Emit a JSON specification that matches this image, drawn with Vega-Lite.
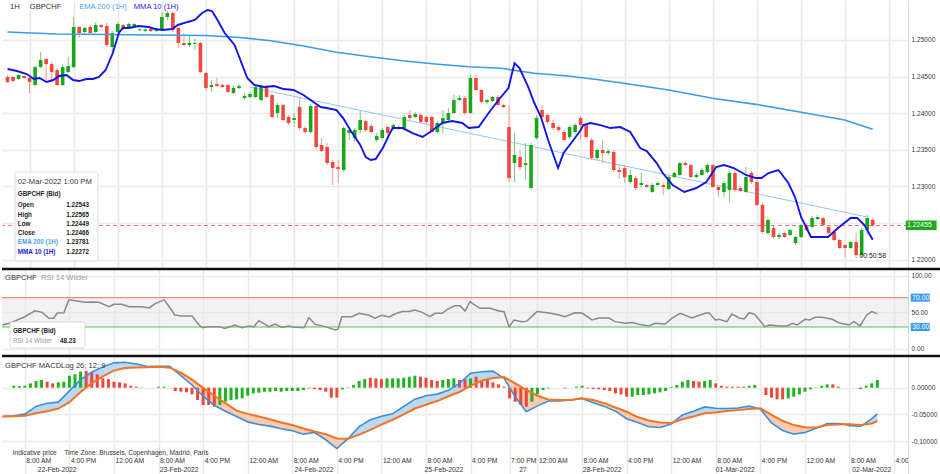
{
"$schema": "https://vega.github.io/schema/vega-lite/v6.json",
"padding": 0,
"spacing": 0,
"bounds": "flush",
"background": "#ffffff",
"resolve": {"scale": {"x": "independent", "y": "independent"}},
"config": {
  "view": {"stroke": null},
  "font": "Liberation Sans",
  "locale": {"number": {"decimal": ".", "thousands": ",", "grouping": [3], "currency": ["$", ""], "minus": "-"}},
  "axis": {"labelFont": "Liberation Sans"},
  "text": {"font": "Liberation Sans"}
},
"datasets": {
  "candles": [
    {"i":4,"o":1.24494,"h":1.24522,"l":1.24412,"c":1.24426},
    {"i":5,"o":1.24494,"h":1.24508,"l":1.24426,"c":1.24439},
    {"i":6,"o":1.24467,"h":1.24535,"l":1.24453,"c":1.24522},
    {"i":7,"o":1.24508,"h":1.24522,"l":1.24467,"c":1.24481},
    {"i":8,"o":1.24481,"h":1.24494,"l":1.24276,"c":1.24426},
    {"i":9,"o":1.24385,"h":1.24644,"l":1.24371,"c":1.24630},
    {"i":10,"o":1.24630,"h":1.24836,"l":1.24617,"c":1.24726},
    {"i":11,"o":1.24740,"h":1.24754,"l":1.24453,"c":1.24671},
    {"i":12,"o":1.24671,"h":1.24699,"l":1.24453,"c":1.24563},
    {"i":13,"o":1.24590,"h":1.24617,"l":1.24371,"c":1.24385},
    {"i":14,"o":1.24385,"h":1.24671,"l":1.24371,"c":1.24630},
    {"i":15,"o":1.24563,"h":1.24767,"l":1.24549,"c":1.24644},
    {"i":16,"o":1.24630,"h":1.25313,"l":1.24617,"c":1.25177},
    {"i":17,"o":1.25177,"h":1.25191,"l":1.25027,"c":1.25095},
    {"i":18,"o":1.25109,"h":1.25177,"l":1.25068,"c":1.25164},
    {"i":19,"o":1.25177,"h":1.25205,"l":1.25082,"c":1.25095},
    {"i":20,"o":1.25109,"h":1.25246,"l":1.25095,"c":1.25205},
    {"i":21,"o":1.25205,"h":1.25218,"l":1.25164,"c":1.25177},
    {"i":22,"o":1.25191,"h":1.25232,"l":1.24904,"c":1.24932},
    {"i":23,"o":1.24904,"h":1.25122,"l":1.24836,"c":1.25095},
    {"i":24,"o":1.25109,"h":1.25246,"l":1.25095,"c":1.25218},
    {"i":25,"o":1.25205,"h":1.25218,"l":1.25136,"c":1.25150},
    {"i":26,"o":1.25164,"h":1.25246,"l":1.25150,"c":1.25218},
    {"i":27,"o":1.25177,"h":1.25232,"l":1.25164,"c":1.25218},
    {"i":28,"o":1.25130,"h":1.25164,"l":1.25122,"c":1.25143},
    {"i":29,"o":1.25122,"h":1.25164,"l":1.25109,"c":1.25143},
    {"i":30,"o":1.25150,"h":1.25164,"l":1.25109,"c":1.25122},
    {"i":31,"o":1.25122,"h":1.25164,"l":1.25109,"c":1.25150},
    {"i":32,"o":1.25150,"h":1.25382,"l":1.25136,"c":1.25313},
    {"i":33,"o":1.25313,"h":1.25396,"l":1.25273,"c":1.25368},
    {"i":34,"o":1.25368,"h":1.25396,"l":1.25109,"c":1.25136},
    {"i":35,"o":1.25164,"h":1.25177,"l":1.24890,"c":1.24959},
    {"i":36,"o":1.24959,"h":1.25095,"l":1.24918,"c":1.24932},
    {"i":37,"o":1.24932,"h":1.25068,"l":1.24904,"c":1.24959},
    {"i":38,"o":1.24945,"h":1.25014,"l":1.24863,"c":1.24959},
    {"i":39,"o":1.24959,"h":1.24973,"l":1.24549,"c":1.24563},
    {"i":40,"o":1.24549,"h":1.24563,"l":1.24317,"c":1.24344},
    {"i":41,"o":1.24357,"h":1.24453,"l":1.24290,"c":1.24385},
    {"i":42,"o":1.24398,"h":1.24481,"l":1.24357,"c":1.24371},
    {"i":43,"o":1.24385,"h":1.24412,"l":1.24344,"c":1.24357},
    {"i":44,"o":1.24385,"h":1.24398,"l":1.24276,"c":1.24290},
    {"i":45,"o":1.24276,"h":1.24371,"l":1.24262,"c":1.24344},
    {"i":46,"o":1.24344,"h":1.24398,"l":1.24330,"c":1.24371},
    {"i":47,"o":1.24207,"h":1.24276,"l":1.24180,"c":1.24235},
    {"i":48,"o":1.24221,"h":1.24290,"l":1.24207,"c":1.24262},
    {"i":49,"o":1.24221,"h":1.24371,"l":1.24207,"c":1.24357},
    {"i":50,"o":1.24180,"h":1.24385,"l":1.24166,"c":1.24357},
    {"i":51,"o":1.24371,"h":1.24385,"l":1.24207,"c":1.24221},
    {"i":52,"o":1.24249,"h":1.24262,"l":1.23934,"c":1.23948},
    {"i":53,"o":1.24002,"h":1.24139,"l":1.23934,"c":1.24112},
    {"i":54,"o":1.24112,"h":1.24125,"l":1.23893,"c":1.23907},
    {"i":55,"o":1.23948,"h":1.23975,"l":1.23838,"c":1.23866},
    {"i":56,"o":1.23907,"h":1.24002,"l":1.23811,"c":1.23934},
    {"i":57,"o":1.24084,"h":1.24207,"l":1.23770,"c":1.23797},
    {"i":58,"o":1.23797,"h":1.23825,"l":1.23716,"c":1.23743},
    {"i":59,"o":1.23743,"h":1.24125,"l":1.23716,"c":1.24098},
    {"i":60,"o":1.24098,"h":1.24125,"l":1.23497,"c":1.23538},
    {"i":61,"o":1.23566,"h":1.23661,"l":1.23470,"c":1.23483},
    {"i":62,"o":1.23538,"h":1.23593,"l":1.23292,"c":1.23319},
    {"i":63,"o":1.23333,"h":1.23360,"l":1.23019,"c":1.23251},
    {"i":64,"o":1.23264,"h":1.23360,"l":1.23046,"c":1.23237},
    {"i":65,"o":1.23224,"h":1.23825,"l":1.23197,"c":1.23797},
    {"i":66,"o":1.23729,"h":1.23797,"l":1.23634,"c":1.23770},
    {"i":67,"o":1.23661,"h":1.23797,"l":1.23607,"c":1.23770},
    {"i":68,"o":1.23770,"h":1.24043,"l":1.23729,"c":1.23907},
    {"i":69,"o":1.23893,"h":1.23907,"l":1.23743,"c":1.23770},
    {"i":70,"o":1.23825,"h":1.23852,"l":1.23716,"c":1.23743},
    {"i":71,"o":1.23634,"h":1.23729,"l":1.23607,"c":1.23688},
    {"i":72,"o":1.23661,"h":1.23797,"l":1.23648,"c":1.23770},
    {"i":73,"o":1.23811,"h":1.23838,"l":1.23702,"c":1.23729},
    {"i":74,"o":1.23797,"h":1.23866,"l":1.23770,"c":1.23838},
    {"i":75,"o":1.23797,"h":1.23838,"l":1.23770,"c":1.23811},
    {"i":76,"o":1.23797,"h":1.23975,"l":1.23770,"c":1.23948},
    {"i":77,"o":1.23975,"h":1.24043,"l":1.23907,"c":1.23934},
    {"i":78,"o":1.23948,"h":1.24016,"l":1.23934,"c":1.23989},
    {"i":79,"o":1.23975,"h":1.24002,"l":1.23866,"c":1.23880},
    {"i":80,"o":1.23948,"h":1.23975,"l":1.23852,"c":1.23880},
    {"i":81,"o":1.23948,"h":1.23975,"l":1.23729,"c":1.23743},
    {"i":82,"o":1.23743,"h":1.23893,"l":1.23716,"c":1.23866},
    {"i":83,"o":1.23866,"h":1.24043,"l":1.23729,"c":1.23934},
    {"i":84,"o":1.23907,"h":1.24071,"l":1.23880,"c":1.24002},
    {"i":85,"o":1.24002,"h":1.24249,"l":1.23989,"c":1.24180},
    {"i":86,"o":1.24180,"h":1.24249,"l":1.24166,"c":1.24207},
    {"i":87,"o":1.24207,"h":1.24235,"l":1.23975,"c":1.24002},
    {"i":88,"o":1.24002,"h":1.24522,"l":1.23989,"c":1.24481},
    {"i":89,"o":1.24481,"h":1.24522,"l":1.24303,"c":1.24317},
    {"i":90,"o":1.24317,"h":1.24330,"l":1.24139,"c":1.24153},
    {"i":91,"o":1.24153,"h":1.24194,"l":1.24125,"c":1.24180},
    {"i":92,"o":1.24166,"h":1.24235,"l":1.24153,"c":1.24221},
    {"i":93,"o":1.24221,"h":1.24249,"l":1.24098,"c":1.24112},
    {"i":94,"o":1.24112,"h":1.24125,"l":1.24071,"c":1.24084},
    {"i":95,"o":1.23811,"h":1.24112,"l":1.23060,"c":1.23114},
    {"i":96,"o":1.23319,"h":1.23729,"l":1.23060,"c":1.23429},
    {"i":97,"o":1.23401,"h":1.23497,"l":1.23224,"c":1.23264},
    {"i":98,"o":1.23292,"h":1.23593,"l":1.23087,"c":1.23319},
    {"i":99,"o":1.22978,"h":1.23593,"l":1.22951,"c":1.23566},
    {"i":100,"o":1.23661,"h":1.23975,"l":1.23634,"c":1.23934},
    {"i":101,"o":1.24043,"h":1.24112,"l":1.23934,"c":1.23948},
    {"i":102,"o":1.23975,"h":1.24002,"l":1.23852,"c":1.23880},
    {"i":103,"o":1.23866,"h":1.23907,"l":1.23770,"c":1.23797},
    {"i":104,"o":1.23811,"h":1.23838,"l":1.23743,"c":1.23770},
    {"i":105,"o":1.23743,"h":1.23770,"l":1.23607,"c":1.23634},
    {"i":106,"o":1.23675,"h":1.23838,"l":1.23648,"c":1.23811},
    {"i":107,"o":1.23743,"h":1.23866,"l":1.23716,"c":1.23838},
    {"i":108,"o":1.23934,"h":1.23962,"l":1.23634,"c":1.23838},
    {"i":109,"o":1.23838,"h":1.23866,"l":1.23661,"c":1.23675},
    {"i":110,"o":1.23634,"h":1.23661,"l":1.23360,"c":1.23387},
    {"i":111,"o":1.23387,"h":1.23524,"l":1.23360,"c":1.23497},
    {"i":112,"o":1.23497,"h":1.23634,"l":1.23319,"c":1.23456},
    {"i":113,"o":1.23456,"h":1.23511,"l":1.23429,"c":1.23483},
    {"i":114,"o":1.23470,"h":1.23497,"l":1.23197,"c":1.23224},
    {"i":115,"o":1.23224,"h":1.23292,"l":1.23101,"c":1.23197},
    {"i":116,"o":1.23251,"h":1.23292,"l":1.23046,"c":1.23128},
    {"i":117,"o":1.23060,"h":1.23224,"l":1.23033,"c":1.23156},
    {"i":118,"o":1.23114,"h":1.23142,"l":1.22951,"c":1.22978},
    {"i":119,"o":1.23019,"h":1.23183,"l":1.22978,"c":1.23046},
    {"i":120,"o":1.23019,"h":1.23033,"l":1.22978,"c":1.22992},
    {"i":121,"o":1.22924,"h":1.23046,"l":1.22910,"c":1.23019},
    {"i":122,"o":1.23019,"h":1.23074,"l":1.23005,"c":1.23046},
    {"i":123,"o":1.23019,"h":1.23046,"l":1.22883,"c":1.22992},
    {"i":124,"o":1.22964,"h":1.23142,"l":1.22951,"c":1.23128},
    {"i":125,"o":1.23128,"h":1.23197,"l":1.23114,"c":1.23183},
    {"i":126,"o":1.23156,"h":1.23333,"l":1.23142,"c":1.23319},
    {"i":127,"o":1.23319,"h":1.23347,"l":1.23278,"c":1.23292},
    {"i":128,"o":1.23292,"h":1.23306,"l":1.23114,"c":1.23128},
    {"i":129,"o":1.23128,"h":1.23183,"l":1.23114,"c":1.23156},
    {"i":130,"o":1.23156,"h":1.23251,"l":1.23142,"c":1.23224},
    {"i":131,"o":1.23197,"h":1.23319,"l":1.23183,"c":1.23292},
    {"i":132,"o":1.23292,"h":1.23306,"l":1.22978,"c":1.22992},
    {"i":133,"o":1.22992,"h":1.23005,"l":1.22855,"c":1.22951},
    {"i":134,"o":1.22924,"h":1.23074,"l":1.22855,"c":1.23046},
    {"i":135,"o":1.22951,"h":1.23210,"l":1.22787,"c":1.23183},
    {"i":136,"o":1.23183,"h":1.23251,"l":1.22924,"c":1.22951},
    {"i":137,"o":1.22978,"h":1.23005,"l":1.22924,"c":1.22937},
    {"i":138,"o":1.22924,"h":1.23264,"l":1.22910,"c":1.23128},
    {"i":139,"o":1.23183,"h":1.23210,"l":1.23033,"c":1.23060},
    {"i":140,"o":1.23060,"h":1.23087,"l":1.22732,"c":1.22746},
    {"i":141,"o":1.22746,"h":1.22773,"l":1.22350,"c":1.22377},
    {"i":142,"o":1.22363,"h":1.22568,"l":1.22336,"c":1.22541},
    {"i":143,"o":1.22431,"h":1.22459,"l":1.22281,"c":1.22309},
    {"i":144,"o":1.22309,"h":1.22363,"l":1.22281,"c":1.22336},
    {"i":145,"o":1.22363,"h":1.22377,"l":1.22295,"c":1.22309},
    {"i":146,"o":1.22336,"h":1.22418,"l":1.22322,"c":1.22404},
    {"i":147,"o":1.22227,"h":1.22322,"l":1.22199,"c":1.22309},
    {"i":148,"o":1.22309,"h":1.22486,"l":1.22295,"c":1.22473},
    {"i":149,"o":1.22473,"h":1.22500,"l":1.22391,"c":1.22404},
    {"i":150,"o":1.22445,"h":1.22596,"l":1.22431,"c":1.22568},
    {"i":151,"o":1.22554,"h":1.22609,"l":1.22541,"c":1.22582},
    {"i":152,"o":1.22568,"h":1.22582,"l":1.22459,"c":1.22473},
    {"i":153,"o":1.22445,"h":1.22459,"l":1.22350,"c":1.22363},
    {"i":154,"o":1.22377,"h":1.22391,"l":1.22254,"c":1.22268},
    {"i":155,"o":1.22268,"h":1.22281,"l":1.22145,"c":1.22159},
    {"i":156,"o":1.22199,"h":1.22213,"l":1.22035,"c":1.22159},
    {"i":157,"o":1.22159,"h":1.22254,"l":1.22145,"c":1.22241},
    {"i":158,"o":1.22241,"h":1.22363,"l":1.22021,"c":1.22062},
    {"i":159,"o":1.22062,"h":1.22431,"l":1.22035,"c":1.22404},
    {"i":160,"o":1.22404,"h":1.22609,"l":1.22336,"c":1.22568},
    {"i":161,"o":1.22543,"h":1.22565,"l":1.22449,"c":1.22466}
  ],
  "ema": [
    {"i":4,"v":1.25109},{"i":12.9,"v":1.25082},{"i":21.8,"v":1.25075},{"i":30.8,"v":1.25068},{"i":39.8,"v":1.25061},{"i":45.7,"v":1.25037},{"i":51.8,"v":1.24990},{"i":57.7,"v":1.24918},{"i":63.7,"v":1.24832},{"i":69.8,"v":1.24772},{"i":75.7,"v":1.24717},{"i":81.6,"v":1.24672},{"i":87.7,"v":1.24635},{"i":93.6,"v":1.24613},{"i":99.6,"v":1.24545},{"i":105.7,"v":1.24508},{"i":111.6,"v":1.24453},{"i":115.2,"v":1.24416},{"i":124,"v":1.24317},{"i":131.9,"v":1.24203},{"i":139.8,"v":1.24121},{"i":147.5,"v":1.24020},{"i":155.9,"v":1.23907},{"i":161,"v":1.23781}
  ],
  "mma": [
    {"i":4,"v":1.24604},{"i":5.7,"v":1.24576},{"i":7.5,"v":1.24535},{"i":8.75,"v":1.24467},{"i":9.8,"v":1.24481},{"i":11.1,"v":1.24426},{"i":12.3,"v":1.24453},{"i":13.4,"v":1.24508},{"i":14.7,"v":1.24522},{"i":15.9,"v":1.24453},{"i":17.0,"v":1.24439},{"i":18.3,"v":1.24467},{"i":19.5,"v":1.24467},{"i":20.6,"v":1.24494},{"i":21.8,"v":1.24590},{"i":23.1,"v":1.24822},{"i":24.2,"v":1.25095},{"i":24.9,"v":1.25164},{"i":26.0,"v":1.25164},{"i":27.8,"v":1.25191},{"i":29.6,"v":1.25177},{"i":30.8,"v":1.25150},{"i":32.1,"v":1.25136},{"i":33.9,"v":1.25150},{"i":34.9,"v":1.25205},{"i":36.7,"v":1.25246},{"i":38.0,"v":1.25273},{"i":39.3,"v":1.25368},{"i":40.3,"v":1.25409},{"i":41.1,"v":1.25396},{"i":42.1,"v":1.25273},{"i":43.4,"v":1.25095},{"i":45.2,"v":1.24932},{"i":47.5,"v":1.24481},{"i":48.8,"v":1.24385},{"i":50.6,"v":1.24357},{"i":52.4,"v":1.24371},{"i":54.1,"v":1.24330},{"i":55.9,"v":1.24317},{"i":57.7,"v":1.24249},{"i":59.5,"v":1.24153},{"i":60.8,"v":1.24084},{"i":61.9,"v":1.24071},{"i":63.7,"v":1.24043},{"i":64.9,"v":1.23934},{"i":66.2,"v":1.23770},{"i":68.0,"v":1.23566},{"i":69.0,"v":1.23401},{"i":69.9,"v":1.23360},{"i":70.8,"v":1.23374},{"i":72.1,"v":1.23524},{"i":73.4,"v":1.23729},{"i":73.9,"v":1.23797},{"i":75.7,"v":1.23797},{"i":77.5,"v":1.23729},{"i":79.3,"v":1.23675},{"i":80.7,"v":1.23743},{"i":82.9,"v":1.23866},{"i":84.7,"v":1.23893},{"i":86.5,"v":1.23866},{"i":87.7,"v":1.23797},{"i":89.5,"v":1.23811},{"i":91.3,"v":1.24002},{"i":93.1,"v":1.24180},{"i":94.9,"v":1.24344},{"i":96.0,"v":1.24685},{"i":96.9,"v":1.24617},{"i":98.5,"v":1.24357},{"i":99.6,"v":1.24139},{"i":100.8,"v":1.23948},{"i":102.1,"v":1.23634},{"i":103.9,"v":1.23251},{"i":104.9,"v":1.23456},{"i":106.7,"v":1.23634},{"i":108.0,"v":1.23770},{"i":108.5,"v":1.23838},{"i":109.8,"v":1.23866},{"i":111.6,"v":1.23838},{"i":113.4,"v":1.23797},{"i":115.2,"v":1.23811},{"i":117.0,"v":1.23743},{"i":118.8,"v":1.23524},{"i":120.0,"v":1.23483},{"i":121.8,"v":1.23319},{"i":122.9,"v":1.23183},{"i":124.7,"v":1.23019},{"i":126.8,"v":1.22924},{"i":129.0,"v":1.22978},{"i":130.8,"v":1.23060},{"i":132.6,"v":1.23264},{"i":134.0,"v":1.23292},{"i":135.8,"v":1.23251},{"i":138.0,"v":1.23156},{"i":139.8,"v":1.23114},{"i":140.8,"v":1.23114},{"i":142.1,"v":1.23183},{"i":143.9,"v":1.23224},{"i":145.7,"v":1.23046},{"i":146.9,"v":1.22855},{"i":148.0,"v":1.22582},{"i":149.8,"v":1.22309},{"i":151.6,"v":1.22309},{"i":152.9,"v":1.22309},{"i":154.7,"v":1.22431},{"i":157.0,"v":1.22568},{"i":158.2,"v":1.22568},{"i":159.5,"v":1.22473},{"i":161.0,"v":1.22272}
  ],
  "trend": [{"i":47.9,"v":1.24358},{"i":160.0,"v":1.22582}],
  "rsi": [
    {"i":4,"v":32.7},{"i":5.2,"v":35},{"i":8.0,"v":44},{"i":9.8,"v":52},{"i":11.1,"v":50},{"i":12.3,"v":42},{"i":13.2,"v":42},{"i":13.8,"v":49},{"i":15.0,"v":49.5},{"i":15.9,"v":67},{"i":17.4,"v":65.5},{"i":18.8,"v":63.7},{"i":20.1,"v":64},{"i":21.3,"v":63.7},{"i":23.1,"v":57.7},{"i":24.0,"v":61},{"i":25.4,"v":61},{"i":26.7,"v":57.7},{"i":29.0,"v":57.7},{"i":30.3,"v":56},{"i":31.4,"v":62},{"i":33.0,"v":67},{"i":33.9,"v":57.7},{"i":34.9,"v":46.4},{"i":36.2,"v":45},{"i":38.0,"v":45},{"i":39.3,"v":32.7},{"i":39.8,"v":29},{"i":41.1,"v":30.5},{"i":42.8,"v":30.5},{"i":43.9,"v":28},{"i":45.7,"v":32.7},{"i":47.0,"v":29},{"i":48.2,"v":31.5},{"i":49.1,"v":30.5},{"i":50.0,"v":38.6},{"i":51.8,"v":30.5},{"i":52.9,"v":34},{"i":54.2,"v":29.5},{"i":55.4,"v":31.5},{"i":56.5,"v":29.5},{"i":58.1,"v":29},{"i":59.0,"v":43},{"i":60.1,"v":33.5},{"i":61.9,"v":30.5},{"i":63.7,"v":26},{"i":64.2,"v":27},{"i":64.9,"v":44},{"i":66.7,"v":44},{"i":68.0,"v":48.7},{"i":69.8,"v":46},{"i":70.8,"v":42},{"i":72.1,"v":46},{"i":73.4,"v":43.6},{"i":74.4,"v":47.7},{"i":75.7,"v":51},{"i":76.9,"v":51},{"i":78.0,"v":53},{"i":79.3,"v":50},{"i":80.7,"v":44},{"i":81.6,"v":48.7},{"i":82.9,"v":48.7},{"i":84.1,"v":55.5},{"i":85.2,"v":59},{"i":86.1,"v":59},{"i":87.0,"v":51.8},{"i":87.9,"v":64.5},{"i":88.3,"v":62.3},{"i":89.7,"v":55.5},{"i":91.5,"v":55.5},{"i":93.1,"v":51.8},{"i":94.0,"v":50.9},{"i":94.9,"v":30.4},{"i":95.8,"v":39.6},{"i":97.2,"v":37.3},{"i":98.1,"v":38},{"i":99.9,"v":51},{"i":102.1,"v":49},{"i":103.9,"v":46.4},{"i":104.9,"v":44},{"i":106.7,"v":49.5},{"i":108.0,"v":49},{"i":109.8,"v":39.6},{"i":111.0,"v":42.3},{"i":112.8,"v":42.3},{"i":113.9,"v":37.3},{"i":115.7,"v":35},{"i":117.0,"v":36},{"i":118.2,"v":33.7},{"i":120.0,"v":31.4},{"i":121.1,"v":35},{"i":122.9,"v":34},{"i":124.1,"v":41.8},{"i":125.6,"v":48.7},{"i":127.7,"v":42.3},{"i":130.1,"v":48.7},{"i":130.8,"v":49.5},{"i":131.9,"v":39.6},{"i":132.6,"v":40.5},{"i":134.0,"v":37.3},{"i":134.9,"v":47.7},{"i":136.2,"v":42.3},{"i":137.1,"v":41},{"i":138.0,"v":49.5},{"i":139.0,"v":47.3},{"i":140.8,"v":30.4},{"i":141.7,"v":32.7},{"i":143.3,"v":31.4},{"i":144.8,"v":31.4},{"i":145.7,"v":35},{"i":146.6,"v":32.7},{"i":148.0,"v":40.5},{"i":148.9,"v":39.5},{"i":149.8,"v":43.2},{"i":151.1,"v":43.2},{"i":152.9,"v":40.5},{"i":154.1,"v":35.9},{"i":155.9,"v":32.7},{"i":156.8,"v":37.3},{"i":157.9,"v":31.4},{"i":159.1,"v":46.4},{"i":160.0,"v":51},{"i":161.0,"v":48.23}
  ],
  "macd": [
    {"i":4,"m":-0.054,"s":-0.054,"seg":1,"dir":"above"},{"i":6,"m":-0.0525,"s":-0.0535,"seg":1,"dir":"above"},{"i":8,"m":-0.0495,"s":-0.0525,"seg":1,"dir":"above"},{"i":10,"m":-0.035,"s":-0.0478,"seg":1,"dir":"above"},{"i":12,"m":-0.0292,"s":-0.044,"seg":1,"dir":"above"},{"i":14,"m":-0.027,"s":-0.039,"seg":1,"dir":"above"},{"i":16,"m":-0.006,"s":-0.027,"seg":1,"dir":"above"},{"i":18,"m":0.015,"s":-0.008,"seg":1,"dir":"above"},{"i":20,"m":0.029,"s":0.008,"seg":1,"dir":"above"},{"i":22,"m":0.039,"s":0.021,"seg":1,"dir":"above"},{"i":24,"m":0.0465,"s":0.032,"seg":1,"dir":"above"},{"i":26,"m":0.0476,"s":0.037,"seg":1,"dir":"above"},{"i":28,"m":0.0445,"s":0.038,"seg":1,"dir":"above"},{"i":30,"m":0.0398,"s":0.0385,"seg":1,"dir":"above"},{"i":32,"m":0.040,"s":0.039,"seg":1,"dir":"above"},{"i":34,"m":0.040,"s":0.0375,"seg":1,"dir":"above"},{"i":34.6,"m":0.0347,"s":0.0347,"seg":1,"dir":"above"},
    {"i":34.6,"m":0.0347,"s":0.0347,"seg":2,"dir":"below"},{"i":36,"m":0.0225,"s":0.028,"seg":2,"dir":"below"},{"i":38,"m":0.0051,"s":0.015,"seg":2,"dir":"below"},{"i":40,"m":-0.016,"s":-0.0004,"seg":2,"dir":"below"},{"i":42,"m":-0.033,"s":-0.015,"seg":2,"dir":"below"},{"i":44,"m":-0.044,"s":-0.029,"seg":2,"dir":"below"},{"i":46,"m":-0.054,"s":-0.043,"seg":2,"dir":"below"},{"i":48,"m":-0.064,"s":-0.049,"seg":2,"dir":"below"},{"i":50,"m":-0.069,"s":-0.054,"seg":2,"dir":"below"},{"i":52,"m":-0.072,"s":-0.059,"seg":2,"dir":"below"},{"i":54,"m":-0.077,"s":-0.065,"seg":2,"dir":"below"},{"i":56,"m":-0.0805,"s":-0.070,"seg":2,"dir":"below"},{"i":58,"m":-0.087,"s":-0.0765,"seg":2,"dir":"below"},{"i":60,"m":-0.084,"s":-0.082,"seg":2,"dir":"below"},{"i":62,"m":-0.0975,"s":-0.087,"seg":2,"dir":"below"},{"i":64,"m":-0.114,"s":-0.095,"seg":2,"dir":"below"},{"i":66,"m":-0.0955,"s":-0.0955,"seg":2,"dir":"below"},
    {"i":66,"m":-0.0955,"s":-0.0955,"seg":3,"dir":"above"},{"i":68,"m":-0.073,"s":-0.088,"seg":3,"dir":"above"},{"i":70,"m":-0.060,"s":-0.079,"seg":3,"dir":"above"},{"i":72,"m":-0.0535,"s":-0.069,"seg":3,"dir":"above"},{"i":74,"m":-0.049,"s":-0.060,"seg":3,"dir":"above"},{"i":76,"m":-0.035,"s":-0.050,"seg":3,"dir":"above"},{"i":78,"m":-0.0215,"s":-0.039,"seg":3,"dir":"above"},{"i":80,"m":-0.015,"s":-0.032,"seg":3,"dir":"above"},{"i":82,"m":-0.012,"s":-0.025,"seg":3,"dir":"above"},{"i":84,"m":-0.005,"s":-0.016,"seg":3,"dir":"above"},{"i":86,"m":0.008,"s":-0.008,"seg":3,"dir":"above"},{"i":88,"m":0.027,"s":0.004,"seg":3,"dir":"above"},{"i":90,"m":0.030,"s":0.013,"seg":3,"dir":"above"},{"i":92,"m":0.031,"s":0.018,"seg":3,"dir":"above"},{"i":93.7,"m":0.0197,"s":0.0197,"seg":3,"dir":"above"},
    {"i":93.7,"m":0.0197,"s":0.0197,"seg":4,"dir":"below"},{"i":94,"m":0.018,"s":0.020,"seg":4,"dir":"below"},{"i":96,"m":-0.017,"s":0.008,"seg":4,"dir":"below"},{"i":98,"m":-0.045,"s":-0.004,"seg":4,"dir":"below"},{"i":100,"m":-0.034,"s":-0.015,"seg":4,"dir":"below"},{"i":102,"m":-0.025,"s":-0.022,"seg":4,"dir":"below"},{"i":104,"m":-0.025,"s":-0.023,"seg":4,"dir":"below"},{"i":106,"m":-0.023,"s":-0.023,"seg":4,"dir":"below"},{"i":108,"m":-0.020,"s":-0.020,"seg":4,"dir":"below"},{"i":110,"m":-0.028,"s":-0.023,"seg":4,"dir":"below"},{"i":112,"m":-0.035,"s":-0.029,"seg":4,"dir":"below"},{"i":114,"m":-0.044,"s":-0.037,"seg":4,"dir":"below"},{"i":116,"m":-0.058,"s":-0.045,"seg":4,"dir":"below"},{"i":118,"m":-0.065,"s":-0.055,"seg":4,"dir":"below"},{"i":120,"m":-0.073,"s":-0.0615,"seg":4,"dir":"below"},{"i":122,"m":-0.0745,"s":-0.065,"seg":4,"dir":"below"},{"i":124,"m":-0.068,"s":-0.066,"seg":4,"dir":"below"},{"i":124.4,"m":-0.0646,"s":-0.0646,"seg":4,"dir":"below"},
    {"i":124.4,"m":-0.0646,"s":-0.0646,"seg":5,"dir":"above"},{"i":126,"m":-0.051,"s":-0.059,"seg":5,"dir":"above"},{"i":128,"m":-0.044,"s":-0.054,"seg":5,"dir":"above"},{"i":130,"m":-0.036,"s":-0.048,"seg":5,"dir":"above"},{"i":132,"m":-0.0386,"s":-0.0465,"seg":5,"dir":"above"},{"i":134,"m":-0.039,"s":-0.0436,"seg":5,"dir":"above"},{"i":136,"m":-0.038,"s":-0.042,"seg":5,"dir":"above"},{"i":138,"m":-0.0345,"s":-0.040,"seg":5,"dir":"above"},{"i":139.6,"m":-0.0388,"s":-0.0388,"seg":5,"dir":"above"},
    {"i":139.6,"m":-0.0388,"s":-0.0388,"seg":6,"dir":"below"},{"i":140,"m":-0.040,"s":-0.0385,"seg":6,"dir":"below"},{"i":142,"m":-0.066,"s":-0.051,"seg":6,"dir":"below"},{"i":144,"m":-0.080,"s":-0.062,"seg":6,"dir":"below"},{"i":146,"m":-0.087,"s":-0.070,"seg":6,"dir":"below"},{"i":148,"m":-0.084,"s":-0.074,"seg":6,"dir":"below"},{"i":150,"m":-0.076,"s":-0.0745,"seg":6,"dir":"below"},{"i":150.7,"m":-0.073,"s":-0.073,"seg":6,"dir":"below"},
    {"i":150.7,"m":-0.073,"s":-0.073,"seg":7,"dir":"above"},{"i":152,"m":-0.067,"s":-0.070,"seg":7,"dir":"above"},{"i":154,"m":-0.067,"s":-0.069,"seg":7,"dir":"above"},{"i":154.9,"m":-0.068,"s":-0.068,"seg":7,"dir":"above"},
    {"i":154.9,"m":-0.068,"s":-0.068,"seg":8,"dir":"below"},{"i":156,"m":-0.071,"s":-0.0686,"seg":8,"dir":"below"},{"i":158,"m":-0.072,"s":-0.070,"seg":8,"dir":"below"},{"i":158.4,"m":-0.0695,"s":-0.0695,"seg":8,"dir":"below"},
    {"i":158.4,"m":-0.0695,"s":-0.0695,"seg":9,"dir":"above"},{"i":160,"m":-0.058,"s":-0.067,"seg":9,"dir":"above"},{"i":161,"m":-0.049,"s":-0.0624,"seg":9,"dir":"above"}
  ],
  "hist": [
    {"i":6,"h":0.0037,"dir":"up"},{"i":7,"h":0.0031,"dir":"up"},{"i":8,"h":0.0037,"dir":"up"},{"i":9,"h":0.0081,"dir":"up"},{"i":10,"h":0.0125,"dir":"up"},{"i":11,"h":0.0144,"dir":"up"},{"i":12,"h":0.0112,"dir":"down"},{"i":13,"h":0.0081,"dir":"down"},{"i":14,"h":0.0100,"dir":"up"},{"i":15,"h":0.0112,"dir":"up"},{"i":16,"h":0.0225,"dir":"up"},{"i":17,"h":0.0250,"dir":"up"},{"i":18,"h":0.0300,"dir":"up"},{"i":19,"h":0.0312,"dir":"down"},{"i":20,"h":0.0287,"dir":"down"},{"i":21,"h":0.0250,"dir":"down"},{"i":22,"h":0.0175,"dir":"down"},{"i":23,"h":0.0162,"dir":"down"},{"i":24,"h":0.0112,"dir":"down"},{"i":25,"h":0.0100,"dir":"down"},{"i":26,"h":0.0081,"dir":"down"},{"i":27,"h":0.0037,"dir":"down"},{"i":28,"h":0.0019,"dir":"down"},{"i":29,"h":0.0006,"dir":"down"},{"i":32,"h":0.0019,"dir":"up"},{"i":33,"h":0.0019,"dir":"up"},
    {"i":35,"h":-0.0062,"dir":"down"},{"i":36,"h":-0.0075,"dir":"down"},{"i":37,"h":-0.0087,"dir":"down"},{"i":38,"h":-0.0125,"dir":"down"},{"i":39,"h":-0.0231,"dir":"down"},{"i":40,"h":-0.0324,"dir":"down"},{"i":41,"h":-0.0324,"dir":"down"},{"i":42,"h":-0.0356,"dir":"down"},{"i":43,"h":-0.0324,"dir":"up"},{"i":44,"h":-0.0262,"dir":"up"},{"i":45,"h":-0.0231,"dir":"up"},{"i":46,"h":-0.0218,"dir":"up"},{"i":47,"h":-0.0200,"dir":"up"},{"i":48,"h":-0.0150,"dir":"up"},{"i":49,"h":-0.0106,"dir":"up"},{"i":50,"h":-0.0094,"dir":"up"},{"i":51,"h":-0.0075,"dir":"up"},{"i":52,"h":-0.0075,"dir":"up"},{"i":53,"h":-0.0062,"dir":"up"},{"i":54,"h":-0.0075,"dir":"up"},{"i":55,"h":-0.0062,"dir":"up"},{"i":56,"h":-0.0062,"dir":"up"},{"i":57,"h":-0.0062,"dir":"up"},{"i":58,"h":-0.0044,"dir":"up"},{"i":59,"h":-0.0012,"dir":"up"},{"i":60,"h":-0.0025,"dir":"down"},{"i":61,"h":-0.0044,"dir":"down"},{"i":62,"h":-0.0075,"dir":"down"},{"i":63,"h":-0.0187,"dir":"down"},{"i":64,"h":-0.0187,"dir":"down"},{"i":65,"h":-0.0031,"dir":"up"},{"i":66,"h":0.0006,"dir":"up"},{"i":67,"h":0.0050,"dir":"up"},{"i":68,"h":0.0125,"dir":"up"},{"i":69,"h":0.0162,"dir":"up"},{"i":70,"h":0.0187,"dir":"down"},{"i":71,"h":0.0175,"dir":"down"},{"i":72,"h":0.0162,"dir":"down"},{"i":73,"h":0.0175,"dir":"up"},{"i":74,"h":0.0175,"dir":"up"},{"i":75,"h":0.0175,"dir":"up"},{"i":76,"h":0.0187,"dir":"up"},{"i":77,"h":0.0206,"dir":"up"},{"i":78,"h":0.0225,"dir":"up"},{"i":79,"h":0.0206,"dir":"down"},{"i":80,"h":0.0187,"dir":"down"},{"i":81,"h":0.0144,"dir":"down"},{"i":82,"h":0.0125,"dir":"down"},{"i":83,"h":0.0144,"dir":"up"},{"i":84,"h":0.0162,"dir":"up"},{"i":85,"h":0.0175,"dir":"up"},{"i":86,"h":0.0144,"dir":"down"},{"i":87,"h":0.0162,"dir":"down"},{"i":88,"h":0.0175,"dir":"up"},{"i":89,"h":0.0206,"dir":"down"},{"i":90,"h":0.0144,"dir":"down"},{"i":91,"h":0.0144,"dir":"down"},{"i":92,"h":0.0100,"dir":"down"},{"i":93,"h":0.0062,"dir":"down"},{"i":94,"h":0.0019,"dir":"down"},
    {"i":95,"h":-0.0200,"dir":"down"},{"i":96,"h":-0.0262,"dir":"down"},{"i":97,"h":-0.0324,"dir":"down"},{"i":98,"h":-0.0356,"dir":"down"},{"i":99,"h":-0.0262,"dir":"up"},{"i":100,"h":-0.0125,"dir":"up"},{"i":101,"h":-0.0044,"dir":"up"},{"i":102,"h":-0.0012,"dir":"up"},{"i":105,"h":-0.0012,"dir":"down"},{"i":107,"h":0.0019,"dir":"up"},{"i":108,"h":0.0037,"dir":"up"},{"i":109,"h":-0.0012,"dir":"down"},{"i":110,"h":-0.0025,"dir":"down"},{"i":111,"h":-0.0031,"dir":"down"},{"i":112,"h":-0.0044,"dir":"down"},{"i":113,"h":-0.0062,"dir":"down"},{"i":114,"h":-0.0106,"dir":"down"},{"i":115,"h":-0.0125,"dir":"down"},{"i":116,"h":-0.0168,"dir":"down"},{"i":117,"h":-0.0168,"dir":"up"},{"i":118,"h":-0.0137,"dir":"up"},{"i":119,"h":-0.0137,"dir":"up"},{"i":120,"h":-0.0125,"dir":"up"},{"i":121,"h":-0.0106,"dir":"up"},{"i":122,"h":-0.0087,"dir":"up"},{"i":123,"h":-0.0062,"dir":"up"},{"i":124,"h":0.0012,"dir":"up"},{"i":125,"h":0.0050,"dir":"up"},{"i":126,"h":0.0112,"dir":"up"},{"i":127,"h":0.0144,"dir":"up"},{"i":128,"h":0.0125,"dir":"down"},{"i":129,"h":0.0112,"dir":"down"},{"i":130,"h":0.0125,"dir":"up"},{"i":131,"h":0.0144,"dir":"up"},{"i":132,"h":0.0081,"dir":"down"},{"i":133,"h":0.0037,"dir":"down"},{"i":134,"h":0.0019,"dir":"down"},{"i":135,"h":0.0019,"dir":"down"},{"i":136,"h":0.0019,"dir":"down"},{"i":137,"h":0.0019,"dir":"down"},{"i":138,"h":0.0037,"dir":"up"},{"i":139,"h":0.0050,"dir":"up"},{"i":141,"h":-0.0137,"dir":"down"},{"i":142,"h":-0.0187,"dir":"down"},{"i":143,"h":-0.0218,"dir":"down"},{"i":144,"h":-0.0218,"dir":"down"},{"i":145,"h":-0.0200,"dir":"up"},{"i":146,"h":-0.0168,"dir":"up"},{"i":147,"h":-0.0125,"dir":"up"},{"i":148,"h":-0.0075,"dir":"up"},{"i":149,"h":-0.0031,"dir":"up"},{"i":150,"h":0.0006,"dir":"up"},{"i":151,"h":0.0037,"dir":"up"},{"i":152,"h":0.0062,"dir":"up"},{"i":153,"h":0.0062,"dir":"down"},{"i":154,"h":0.0019,"dir":"down"},{"i":158,"h":-0.0025,"dir":"down"},{"i":159,"h":0.0037,"dir":"up"},{"i":160,"h":0.0081,"dir":"up"},{"i":161,"h":0.0144,"dir":"up"}
  ],
  "times": [
    {"i":8,"t":"8:00 AM"},{"i":16,"t":"4:00 PM"},{"i":24,"t":"12:00 AM"},{"i":32,"t":"8:00 AM"},{"i":40,"t":"4:00 PM"},{"i":48,"t":"12:00 AM"},{"i":56,"t":"8:00 AM"},{"i":64,"t":"4:00 PM"},{"i":72,"t":"12:00 AM"},{"i":80,"t":"8:00 AM"},{"i":88,"t":"4:00 PM"},{"i":95,"t":"7:00 PM"},{"i":100,"t":"12:00 AM"},{"i":108,"t":"8:00 AM"},{"i":116,"t":"4:00 PM"},{"i":124,"t":"12:00 AM"},{"i":132,"t":"8:00 AM"},{"i":140,"t":"4:00 PM"},{"i":148,"t":"12:00 AM"},{"i":156,"t":"8:00 AM"},{"i":164,"t":"4:00 PM"}
  ],
  "dates": [
    {"i":13.8,"d":"22-Feb-2022"},{"i":35.7,"d":"23-Feb-2022"},{"i":59.9,"d":"24-Feb-2022"},{"i":83.2,"d":"25-Feb-2022"},{"i":97.4,"d":"27"},{"i":111.6,"d":"28-Feb-2022"},{"i":135.5,"d":"01-Mar-2022"},{"i":160.0,"d":"02-Mar-2022"}
  ]
},
"vconcat": [
  {
    "width": 906, "height": 269,
    "layer": [
      {"data": {"name": "trend"},
       "mark": {"type": "line", "color": "#92c8f1", "strokeWidth": 1, "clip": true},
       "encoding": {
         "x": {"field": "i", "type": "quantitative", "scale": {"domain": [3.9, 166.5], "nice": false, "zero": false},
               "axis": {"values": [8,16,24,32,40,48,56,64,72,80,88,95,100,108,116,124,132,140,148,156,164], "grid": true, "labels": false, "ticks": false, "domain": false, "title": null, "gridColor": "#e8e8e8", "gridWidth": 1.5}},
         "y": {"field": "v", "type": "quantitative", "scale": {"domain": [1.21872, 1.25546], "nice": false, "zero": false},
               "axis": {"orient": "right", "values": [1.22, 1.225, 1.23, 1.235, 1.24, 1.245, 1.25], "format": ".5f", "labelExpr": "abs(datum.value-1.225) < 0.000001 ? '' : datum.label", "grid": true, "gridColor": "#ebebeb", "gridWidth": 1.5, "ticks": false, "domain": true, "domainColor": "#d6d6d6", "labelFontSize": 6.6, "labelColor": "#3a3a3a", "labelPadding": 3, "title": null}}
       }},
      {"data": {"values": [{}]},
       "mark": {"type": "rule", "stroke": "#f07a6a", "color": "#f07a6a", "strokeWidth": 1, "strokeDash": [4, 3]},
       "encoding": {"y": {"datum": 1.22466}}},
      {"data": {"name": "candles"},
       "mark": {"type": "rule", "strokeWidth": 1, "clip": true},
       "encoding": {
         "x": {"field": "i", "type": "quantitative"},
         "y": {"field": "l", "type": "quantitative"},
         "y2": {"field": "h"},
         "color": {"condition": {"test": "datum.c >= datum.o", "value": "#7acb7a"}, "value": "#f59a93"}
       }},
      {"data": {"name": "candles"},
       "mark": {"type": "bar", "width": 3.6, "clip": true},
       "encoding": {
         "x": {"field": "i", "type": "quantitative"},
         "y": {"field": "o", "type": "quantitative"},
         "y2": {"field": "c"},
         "color": {"condition": {"test": "datum.c >= datum.o", "value": "#1aa61a"}, "value": "#f2473f"}
       }},
      {"data": {"name": "ema"},
       "mark": {"type": "line", "color": "#3d9ae8", "strokeWidth": 1.6, "clip": true},
       "encoding": {"x": {"field": "i", "type": "quantitative"}, "y": {"field": "v", "type": "quantitative"}}},
      {"data": {"name": "mma"},
       "mark": {"type": "line", "color": "#1414e6", "strokeWidth": 1.9, "clip": true},
       "encoding": {"x": {"field": "i", "type": "quantitative"}, "y": {"field": "v", "type": "quantitative"}}},
      {"data": {"values": [{}]},
       "mark": {"type": "text", "text": "1H", "fontSize": 7.6, "color": "#333333", "align": "left", "baseline": "middle"},
       "encoding": {"x": {"datum": 4.44}, "y": {"datum": 1.2545}}},
      {"data": {"values": [{}]},
       "mark": {"type": "text", "text": "GBPCHF", "fontSize": 7.6, "color": "#333333", "align": "left", "baseline": "middle"},
       "encoding": {"x": {"datum": 8.03}, "y": {"datum": 1.2545}}},
      {"data": {"values": [{}]},
       "mark": {"type": "text", "text": "EMA 200  (1H)", "fontSize": 7.6, "color": "#4aa3ec", "align": "left", "baseline": "middle"},
       "encoding": {"x": {"datum": 17.0}, "y": {"datum": 1.2545}}},
      {"data": {"values": [{}]},
       "mark": {"type": "text", "text": "MMA 10  (1H)", "fontSize": 7.6, "color": "#1c1cee", "align": "left", "baseline": "middle"},
       "encoding": {"x": {"datum": 26.9}, "y": {"datum": 1.2545}}},
      {"data": {"values": [{}]},
       "mark": {"type": "rect", "fill": "#ffffff", "fillOpacity": 0.92, "stroke": "#d4d4d4", "strokeWidth": 0.8, "cornerRadius": 2},
       "encoding": {"x": {"datum": 5.34}, "x2": {"datum": 20.41}, "y": {"datum": 1.23196}, "y2": {"datum": 1.21981}}},
      {"data": {"values": [{}]},
       "mark": {"type": "text", "text": "02-Mar-2022 1:00 PM", "fontSize": 7.6, "color": "#333333", "align": "left", "baseline": "top"},
       "encoding": {"x": {"datum": 5.87}, "y": {"datum": 1.2311}}},
      {"data": {"values": [{}]},
       "mark": {"type": "text", "text": "GBPCHF (Bid)", "fontSize": 6.3, "fontWeight": "bold", "color": "#222222", "align": "left", "baseline": "top"},
       "encoding": {"x": {"datum": 5.87}, "y": {"datum": 1.22933}}},
      {"data": {"values": [{}]},
       "mark": {"type": "text", "text": ["Open", "High", "Low", "Close"], "lineHeight": 9.27, "fontSize": 6.3, "fontWeight": "bold", "color": "#222222", "align": "left", "baseline": "top"},
       "encoding": {"x": {"datum": 5.87}, "y": {"datum": 1.22783}}},
      {"data": {"values": [{}]},
       "mark": {"type": "text", "text": "EMA 200  (1H)", "fontSize": 6.3, "fontWeight": "bold", "color": "#4aa3ec", "align": "left", "baseline": "top"},
       "encoding": {"x": {"datum": 5.87}, "y": {"datum": 1.22277}}},
      {"data": {"values": [{}]},
       "mark": {"type": "text", "text": "MMA 10  (1H)", "fontSize": 6.3, "fontWeight": "bold", "color": "#1c1cee", "align": "left", "baseline": "top"},
       "encoding": {"x": {"datum": 5.87}, "y": {"datum": 1.2215}}},
      {"data": {"values": [{}]},
       "mark": {"type": "text", "text": ["1.22543", "1.22565", "1.22449", "1.22466", "1.23781", "1.22272"], "lineHeight": 9.27, "fontSize": 6.3, "fontWeight": "bold", "color": "#222222", "align": "right", "baseline": "top"},
       "encoding": {"x": {"datum": 18.8}, "y": {"datum": 1.22783}}},
      {"data": {"values": [{}]},
       "mark": {"type": "rect", "fill": "#1fa81f"},
       "encoding": {"x": {"datum": 167.0}, "x2": {"datum": 172.6}, "y": {"datum": 1.22534}, "y2": {"datum": 1.22404}}},
      {"data": {"values": [{}]},
       "mark": {"type": "text", "text": "1.22455", "fontSize": 6.8, "color": "#ffffff", "align": "left", "baseline": "middle"},
       "encoding": {"x": {"datum": 167.25}, "y": {"datum": 1.22469}}},
      {"data": {"values": [{}]},
       "mark": {"type": "text", "text": "00:50:58", "fontSize": 6.8, "color": "#222222", "align": "left", "baseline": "middle"},
       "encoding": {"x": {"datum": 158.6}, "y": {"datum": 1.22049}}}
    ]
  },
  {
    "width": 906, "height": 87,
    "layer": [
      {"data": {"values": [{}]},
       "mark": {"type": "rect", "fill": "#e6e6e6", "fillOpacity": 0.5},
       "encoding": {
         "x": {"datum": 3.9, "scale": {"domain": [3.9, 166.5], "nice": false, "zero": false},
               "axis": {"values": [8,16,24,32,40,48,56,64,72,80,88,95,100,108,116,124,132,140,148,156,164], "grid": true, "labels": false, "ticks": false, "domain": false, "title": null, "gridColor": "#e8e8e8", "gridWidth": 1.5}},
         "x2": {"datum": 166.5},
         "y": {"datum": 30, "scale": {"domain": [-9.55, 109.1], "nice": false, "zero": false},
               "axis": {"orient": "right", "values": [0, 25, 50, 75, 100], "format": ".2f", "grid": true, "gridColor": "#ebebeb", "gridWidth": 1.5, "ticks": false, "domain": true, "domainColor": "#d6d6d6", "labelFontSize": 6.6, "labelColor": "#3a3a3a", "labelPadding": 3, "title": null}},
         "y2": {"datum": 70}
       }},
      {"data": {"values": [{}]},
       "mark": {"type": "rule", "stroke": "#f4887f", "strokeWidth": 1.2},
       "encoding": {"y": {"datum": 70}}},
      {"data": {"values": [{}]},
       "mark": {"type": "rule", "stroke": "#48cc48", "strokeWidth": 1.2},
       "encoding": {"y": {"datum": 30}}},
      {"data": {"name": "rsi"},
       "mark": {"type": "line", "color": "#8a8a8a", "strokeWidth": 1.5, "clip": true},
       "encoding": {"x": {"field": "i", "type": "quantitative"}, "y": {"field": "v", "type": "quantitative"}}},
      {"data": {"values": [{}]},
       "mark": {"type": "rule", "stroke": "#111111", "strokeWidth": 2.4},
       "encoding": {"x": {"datum": 3.9}, "x2": {"datum": 172.6}, "y": {"datum": 109.1}}},
      {"data": {"values": [{}]},
       "mark": {"type": "text", "text": "GBPCHF", "fontSize": 7.6, "color": "#333333", "align": "left", "baseline": "middle"},
       "encoding": {"x": {"datum": 4.44}, "y": {"datum": 96.9}}},
      {"data": {"values": [{}]},
       "mark": {"type": "text", "text": "RSI 14 Wilder", "fontSize": 7.6, "color": "#9a9a9a", "align": "left", "baseline": "middle"},
       "encoding": {"x": {"datum": 10.9}, "y": {"datum": 96.9}}},
      {"data": {"values": [{}]},
       "mark": {"type": "rect", "fill": "#ffffff", "fillOpacity": 0.92, "stroke": "#d4d4d4", "strokeWidth": 0.8, "cornerRadius": 2},
       "encoding": {"x": {"datum": 5.34}, "x2": {"datum": 18.8}, "y": {"datum": 36.8}, "y2": {"datum": 1.4}}},
      {"data": {"values": [{}]},
       "mark": {"type": "text", "text": "GBPCHF (Bid)", "fontSize": 6.3, "fontWeight": "bold", "color": "#222222", "align": "left", "baseline": "middle"},
       "encoding": {"x": {"datum": 5.87}, "y": {"datum": 25.2}}},
      {"data": {"values": [{}]},
       "mark": {"type": "text", "text": "RSI 14 Wilder", "fontSize": 6.3, "color": "#9a9a9a", "align": "left", "baseline": "middle"},
       "encoding": {"x": {"datum": 5.87}, "y": {"datum": 10.9}}},
      {"data": {"values": [{}]},
       "mark": {"type": "text", "text": "48.23", "fontSize": 6.3, "fontWeight": "bold", "color": "#222222", "align": "left", "baseline": "middle"},
       "encoding": {"x": {"datum": 14.3}, "y": {"datum": 10.9}}},
      {"data": {"values": [{}]},
       "mark": {"type": "rect", "fill": "#3d9be9"},
       "encoding": {"x": {"datum": 167.0}, "x2": {"datum": 170.4}, "y": {"datum": 64.5}, "y2": {"datum": 75.5}}},
      {"data": {"values": [{}]},
       "mark": {"type": "text", "text": "70.00", "fontSize": 6.8, "color": "#ffffff", "align": "left", "baseline": "middle"},
       "encoding": {"x": {"datum": 167.25}, "y": {"datum": 70}}},
      {"data": {"values": [{}]},
       "mark": {"type": "rect", "fill": "#3d9be9"},
       "encoding": {"x": {"datum": 167.0}, "x2": {"datum": 170.4}, "y": {"datum": 24.5}, "y2": {"datum": 35.5}}},
      {"data": {"values": [{}]},
       "mark": {"type": "text", "text": "30.00", "fontSize": 6.8, "color": "#ffffff", "align": "left", "baseline": "middle"},
       "encoding": {"x": {"datum": 167.25}, "y": {"datum": 30}}}
    ]
  },
  {
    "width": 906, "height": 99,
    "layer": [
      {"data": {"name": "macd"},
       "transform": [{"filter": "datum.dir == 'above'"}],
       "mark": {"type": "area", "color": "#bcd8f3", "clip": true},
       "encoding": {
         "x": {"field": "i", "type": "quantitative", "scale": {"domain": [3.9, 166.5], "nice": false, "zero": false},
               "axis": {"values": [8,16,24,32,40,48,56,64,72,80,88,95,100,108,116,124,132,140,148,156,164], "grid": true, "labels": false, "ticks": false, "domain": false, "title": null, "gridColor": "#e8e8e8", "gridWidth": 1.5}},
         "y": {"field": "m", "type": "quantitative", "scale": {"domain": [-0.12603, 0.05936], "nice": false, "zero": false},
               "axis": {"orient": "right", "values": [-0.1, -0.05, 0], "format": ".5f", "grid": true, "gridColor": "#ebebeb", "gridWidth": 1.5, "ticks": false, "domain": true, "domainColor": "#d6d6d6", "labelFontSize": 6.6, "labelColor": "#3a3a3a", "labelPadding": 3, "title": null}},
         "y2": {"field": "s"},
         "detail": {"field": "seg", "type": "nominal"}
       }},
      {"data": {"name": "macd"},
       "transform": [{"filter": "datum.dir == 'below'"}],
       "mark": {"type": "area", "color": "#f9cbb0", "clip": true},
       "encoding": {
         "x": {"field": "i", "type": "quantitative"},
         "y": {"field": "m", "type": "quantitative"},
         "y2": {"field": "s"},
         "detail": {"field": "seg", "type": "nominal"}
       }},
      {"data": {"name": "hist"},
       "mark": {"type": "rule", "strokeWidth": 3, "clip": true},
       "encoding": {
         "x": {"field": "i", "type": "quantitative"},
         "y": {"field": "h", "type": "quantitative"},
         "y2": {"datum": 0},
         "color": {"condition": {"test": "datum.dir == 'up'", "value": "#1fb31f"}, "value": "#f2463c"}
       }},
      {"data": {"name": "macd"},
       "mark": {"type": "line", "color": "#3c8edb", "strokeWidth": 1.6, "clip": true},
       "encoding": {"x": {"field": "i", "type": "quantitative"}, "y": {"field": "m", "type": "quantitative"}}},
      {"data": {"name": "macd"},
       "mark": {"type": "line", "color": "#f07526", "strokeWidth": 2, "clip": true},
       "encoding": {"x": {"field": "i", "type": "quantitative"}, "y": {"field": "s", "type": "quantitative"}}},
      {"data": {"values": [{}]},
       "mark": {"type": "rule", "stroke": "#111111", "strokeWidth": 2.4},
       "encoding": {"x": {"datum": 3.9}, "x2": {"datum": 172.6}, "y": {"datum": 0.05936}}},
      {"data": {"values": [{}]},
       "mark": {"type": "text", "text": "GBPCHF  MACDLog 26; 12; 9", "fontSize": 7.6, "color": "#333333", "align": "left", "baseline": "middle"},
       "encoding": {"x": {"datum": 4.44}, "y": {"datum": 0.0406}}},
      {"data": {"values": [{}]},
       "mark": {"type": "text", "text": "Indicative price", "fontSize": 6.6, "color": "#333333", "align": "left", "baseline": "middle"},
       "encoding": {"x": {"datum": 5.82}, "y": {"datum": -0.1217}}},
      {"data": {"values": [{}]},
       "mark": {"type": "text", "text": "Time Zone: Brussels, Copenhagen, Madrid, Paris", "fontSize": 6.6, "color": "#333333", "align": "left", "baseline": "middle"},
       "encoding": {"x": {"datum": 15.08}, "y": {"datum": -0.1217}}}
    ]
  },
  {
    "width": 906, "height": 19,
    "layer": [
      {"data": {"name": "times"},
       "mark": {"type": "text", "fontSize": 6.8, "color": "#333333", "align": "left", "baseline": "middle", "dx": 1.5, "clip": true},
       "encoding": {
         "x": {"field": "i", "type": "quantitative", "scale": {"domain": [3.9, 166.5], "nice": false, "zero": false},
               "axis": {"values": [8,16,24,32,40,48,56,64,72,80,88,95,100,108,116,124,132,140,148,156,164], "grid": true, "labels": false, "ticks": false, "domain": false, "title": null, "gridColor": "#e8e8e8", "gridWidth": 1.5}},
         "y": {"datum": 13, "scale": {"domain": [0, 19], "nice": false, "zero": false},
               "axis": {"orient": "right", "values": [], "grid": false, "ticks": false, "labels": false, "domain": true, "domainColor": "#d6d6d6", "title": null}},
         "text": {"field": "t"}
       }},
      {"data": {"name": "dates"},
       "mark": {"type": "text", "fontSize": 6.8, "color": "#333333", "align": "center", "baseline": "middle"},
       "encoding": {
         "x": {"field": "i", "type": "quantitative"},
         "y": {"datum": 4},
         "text": {"field": "d"}
       }}
    ]
  }
]
}
